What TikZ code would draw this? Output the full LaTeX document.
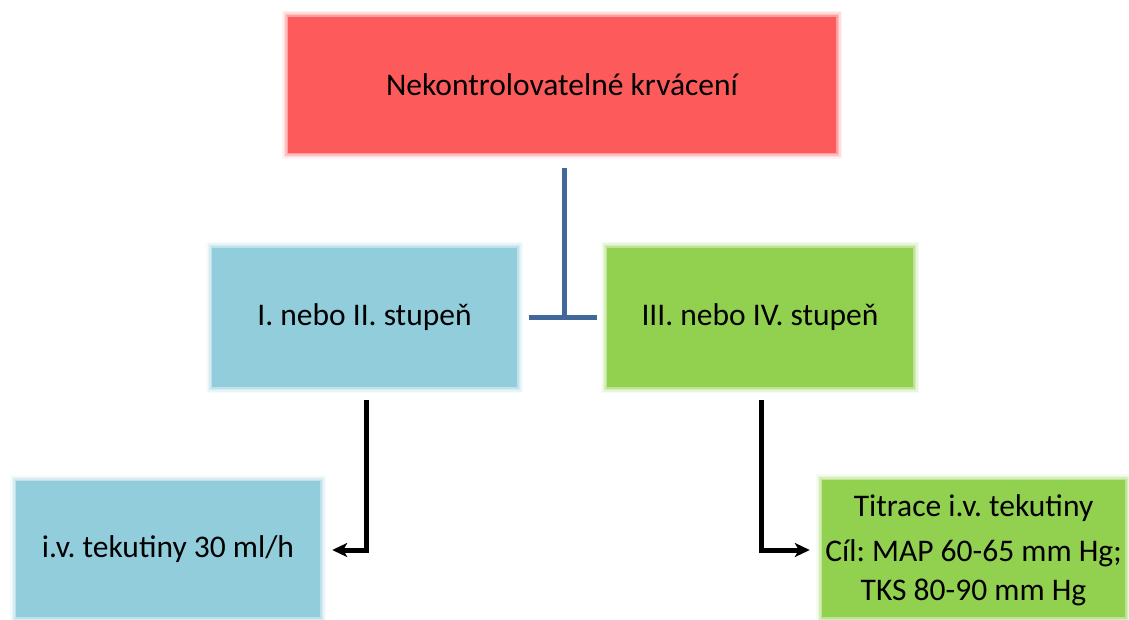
\documentclass[tikz,border=0pt]{standalone}
\usepackage{fontspec}
\setmainfont{Carlito}
\usetikzlibrary{arrows.meta}
\definecolor{boxred}{RGB}{253,91,91}
\definecolor{boxblue}{RGB}{146,205,220}
\definecolor{boxgreen}{RGB}{146,208,80}
\definecolor{linkblue}{RGB}{66,104,155}
\tikzset{
  softbox/.style={rectangle, fill=#1, draw=none, inner sep=0pt, align=center,
    text=black, font=\frenchspacing\fontsize{31.5}{39}\selectfont,
    preaction={draw=#1, line width=12pt, draw opacity=0.08, rounded corners=5pt},
    preaction={draw=#1, line width=9pt, draw opacity=0.14, rounded corners=4pt},
    preaction={draw=#1, line width=6pt, draw opacity=0.22, rounded corners=3pt},
    preaction={draw=#1, line width=3pt, draw opacity=0.35, rounded corners=1.5pt}},
  bluelink/.style={draw=linkblue, line width=5pt},
  blackarrow/.style={draw=black, line width=5pt,
    -{Stealth[length=15pt, width=14pt, inset=4pt]}},
}
\begin{document}
\begin{tikzpicture}[x=1pt, y=1pt]
  \useasboundingbox (0,0) rectangle (1129,619);

  % boxes
  \node[softbox=boxred, minimum width=548pt, minimum height=136pt]
    (top) at (562,534) {Nekontrolovatelné krvácení};
  \node[softbox=boxblue, minimum width=305pt, minimum height=139pt]
    (ml) at (364.5,301.5) {I. nebo II. stupeň};
  \node[softbox=boxgreen, minimum width=306pt, minimum height=139pt]
    (mr) at (760,301.5) {III. nebo IV. stupeň};
  \node[softbox=boxblue, minimum width=304pt, minimum height=136pt]
    (bl) at (168,70) {i.v. tekutiny 30 ml/h};
  \node[softbox=boxgreen, minimum width=303pt, minimum height=137pt]
    (br) at (973.5,70.5) {};
  \node[font=\frenchspacing\fontsize{31.5}{39}\selectfont, align=center, inner sep=0pt]
    (brtext) at ([yshift=-2pt]br.center) {Titrace i.v. tekutiny\\[6pt]Cíl: MAP 60-65 mm Hg;\\TKS 80-90 mm Hg};

  % blue T-junction between the top box and the middle row
  \coordinate (barL) at ([xshift=12pt]ml.east);
  \coordinate (barR) at ([xshift=-10pt]mr.west);
  \coordinate (stemTop) at ([xshift=2pt, yshift=-15pt]top.south);
  \draw[bluelink] (barL) -- (barR);
  \draw[bluelink] (stemTop) -- (stemTop |- barL);

  % elbow arrows to the bottom row
  \draw[blackarrow] ([xshift=1.5pt, yshift=-13pt]ml.south) |- ([xshift=12pt, yshift=-1pt]bl.east);
  \draw[blackarrow] ([xshift=1pt, yshift=-13pt]mr.south) |- ([xshift=-12pt, yshift=-1.5pt]br.west);
\end{tikzpicture}
\end{document}
